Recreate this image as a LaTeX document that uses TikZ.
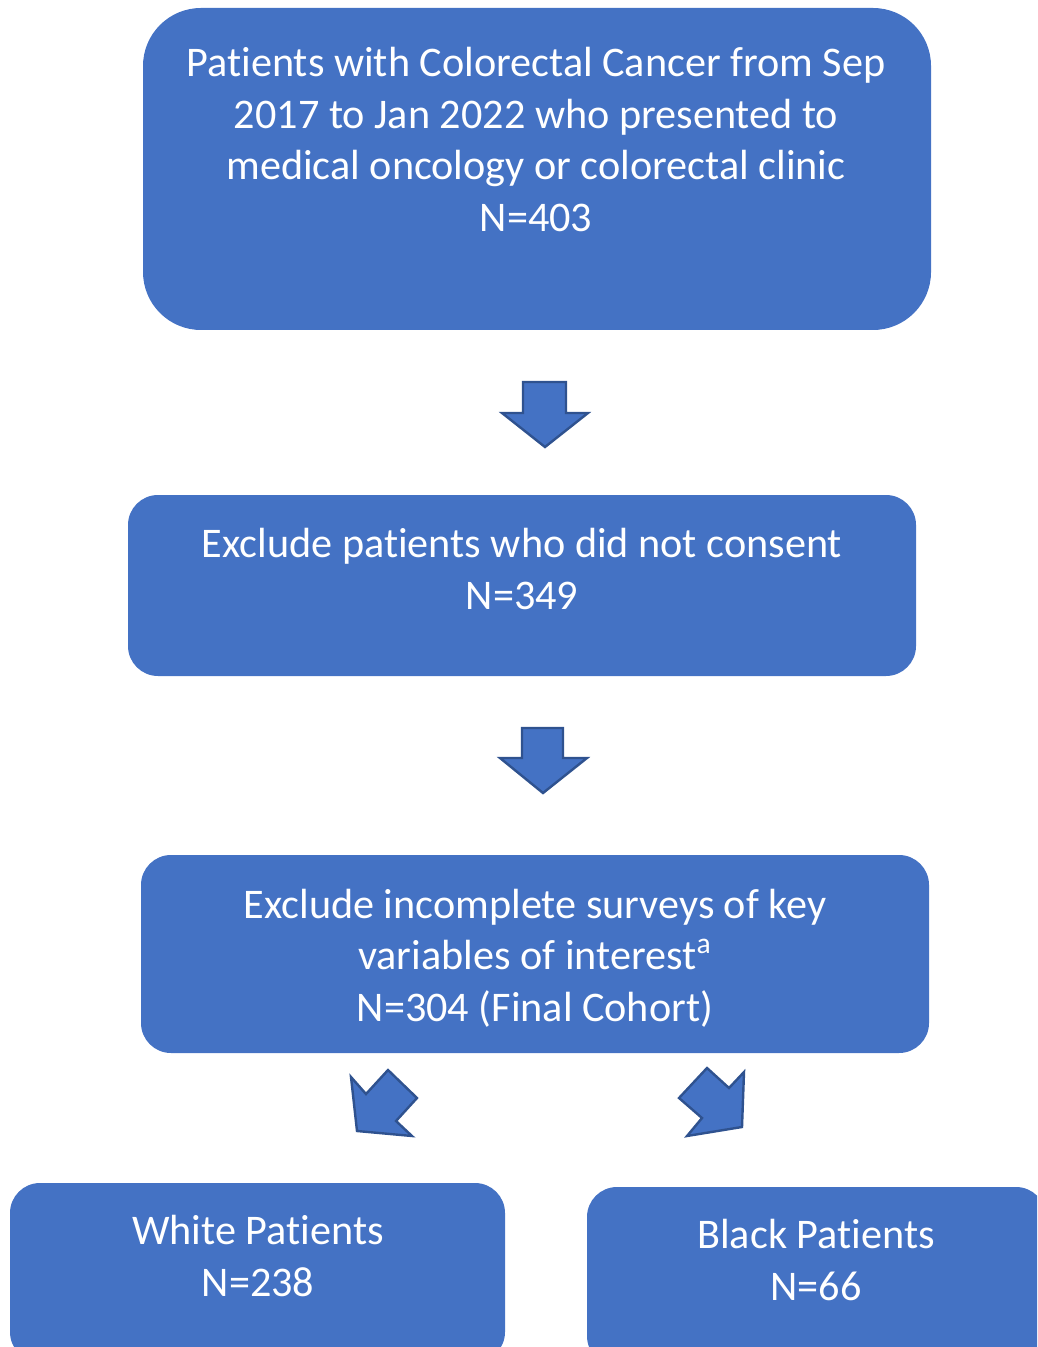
\documentclass[tikz,border=0pt]{standalone}
\usepackage{fontspec}
\setmainfont{Carlito}[Ligatures=NoCommon]
\definecolor{boxblue}{HTML}{4472C4}
\definecolor{edgeblue}{HTML}{2F528F}
\begin{document}
\begin{tikzpicture}[x=0.5pt,y=-0.5pt,
  flowbox/.style={fill=boxblue,draw=none},
  blockarrow/.style={fill=boxblue,draw=edgeblue,line width=1.2pt,line join=miter},
  label/.style={text=white,font=\fontsize{21.1}{25.8}\selectfont,align=center,anchor=base,inner sep=0pt}]
\useasboundingbox (0,0) rectangle (1037,1347);
\begin{scope}
\clip (0,0) rectangle (1037,1347);
% boxes
\fill[flowbox,rounded corners=29pt] (143,8) rectangle (931,330);
\fill[flowbox,rounded corners=15pt] (128,495) rectangle (916,676);
\fill[flowbox,rounded corners=15pt] (141,855) rectangle (929,1053);
\fill[flowbox,rounded corners=15pt] (10,1183) rectangle (505,1362);
\fill[flowbox,rounded corners=15pt] (587,1187) rectangle (1046,1366);
% arrows
\draw[blockarrow] (523,382) -- (566,382) -- (566,413) -- (588,413) -- (545,447) -- (502,413) -- (523,413) -- cycle;
\draw[blockarrow] (522,728) -- (563,728) -- (563,758) -- (587,758) -- (543,793) -- (500,758) -- (522,758) -- cycle;
\draw[blockarrow] (357,1131) -- (351,1077) -- (366,1094) -- (388,1070) -- (417,1098) -- (396,1121) -- (412,1136) -- cycle;
\draw[blockarrow] (742,1127) -- (744,1072) -- (729,1088) -- (707,1068) -- (679,1098) -- (702,1118) -- (687,1136) -- cycle;
\end{scope}
% texts
\node[label] (t1a) at (536,77) {Patients with Colorectal Cancer from Sep};
\node[label] (t1b) at (536,129) {2017 to Jan 2022 who presented to};
\node[label] (t1c) at (536,180) {medical oncology or colorectal clinic};
\node[label] (t1d) at (536,232) {N=403};
\node[label] (t2a) at (522,557) {Exclude patients who did not consent};
\node[label] (t2b) at (522,609) {N=349};
\node[label] (t3a) at (535,918) {Exclude incomplete surveys of key};
\node[label] (t3b) at (535,969) {variables of interest\textsuperscript{a}};
\node[label] (t3c) at (535,1021) {N=304 (Final Cohort)};
\node[label] (t4a) at (258,1244) {White Patients};
\node[label] (t4b) at (258,1296) {N=238};
\node[label] (t5a) at (816,1248) {Black Patients};
\node[label] (t5b) at (816,1300) {N=66};
\end{tikzpicture}
\end{document}
